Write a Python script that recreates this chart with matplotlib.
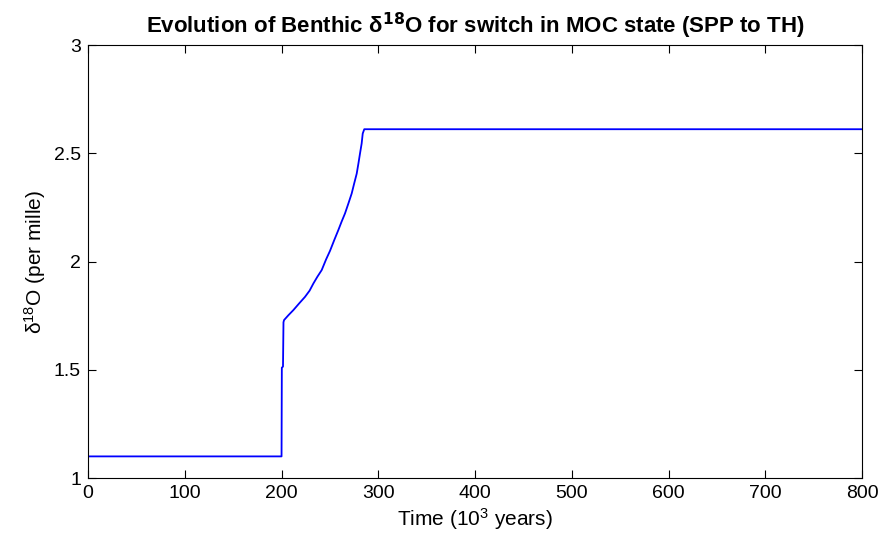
import matplotlib
matplotlib.use('Agg')
import matplotlib.pyplot as plt

# Time (10^3 years) and benthic d18O (per mille)
time_kyr = [0, 200, 200.3, 201.5, 202.0, 202.6, 207, 212.2, 218, 224.2, 229,
            232.9, 237, 241.5, 246, 250.1, 254.5, 258.7, 262, 265.6, 269.1,
            272.5, 275, 277.7, 279.5, 281.1, 282.8, 283.9, 285.5, 800]
d18o = [1.10, 1.10, 1.51, 1.515, 1.72, 1.730, 1.752, 1.776, 1.806, 1.837, 1.866,
        1.899, 1.930, 1.961, 2.010, 2.050, 2.100, 2.146, 2.184, 2.223, 2.269,
        2.315, 2.360, 2.407, 2.455, 2.500, 2.546, 2.592, 2.612, 2.612]

x_ticks = [0, 100, 200, 300, 400, 500, 600, 700, 800]
y_ticks = [1, 1.5, 2, 2.5, 3]
y_tick_labels = ['1', '1.5', '2', '2.5', '3']

plt.rcParams['font.family'] = ['Liberation Sans', 'DejaVu Sans']
plt.rcParams['mathtext.default'] = 'regular'

fig = plt.figure(figsize=(8.83, 5.52), dpi=100)
ax = fig.add_axes([0.0997, 0.134, 0.8766, 0.784])

ax.plot(time_kyr, d18o, color='#0000ff', linewidth=1.3)

ax.set_xlim(0, 800)
ax.set_ylim(1, 3)
ax.set_xticks(x_ticks)
ax.set_yticks(y_ticks)
ax.set_yticklabels(y_tick_labels)
ax.tick_params(direction='in', top=True, right=True, length=6, width=0.8,
               labelsize=14, pad=5)
for s in ax.spines.values():
    s.set_linewidth(0.8)

ax.set_xlabel('Time (10$^3$ years)', fontsize=15, labelpad=3)
ax.set_ylabel('δ$^{18}$O (per mille)', fontsize=15, labelpad=4)
ax.set_title('Evolution of Benthic δ$^{\\mathbf{18}}$O for switch in MOC state (SPP to TH)',
             fontsize=16, fontweight='bold', pad=9)

plt.savefig('out.png', dpi=100)
plt.close()
